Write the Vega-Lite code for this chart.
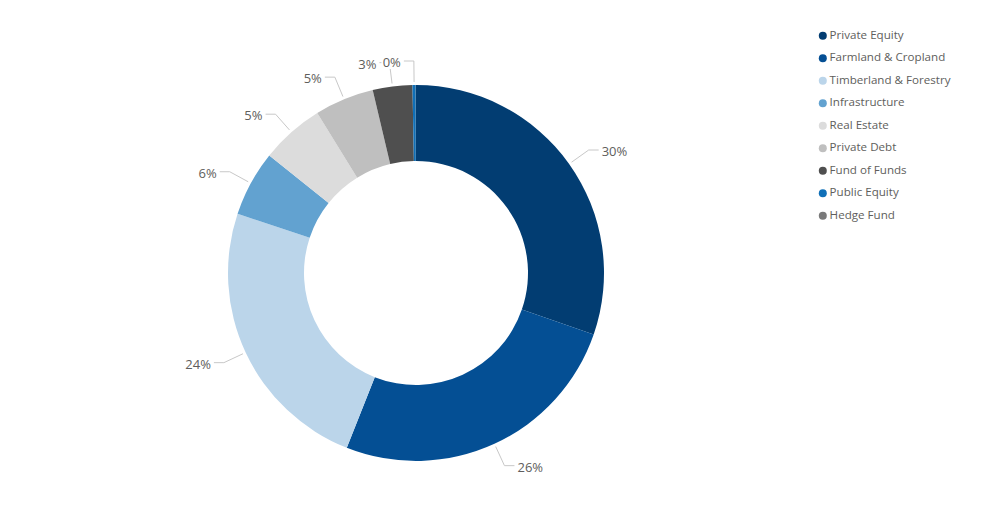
{
  "$schema": "https://vega.github.io/schema/vega-lite/v6.json",
  "autosize": {"type": "none"},
  "width": 832,
  "height": 480,
  "padding": {"left": 0, "top": 33, "right": 168, "bottom": 0},
  "background": "white",
  "config": {"view": {"stroke": null}},
  "data": {
    "values": [
      {"category": "Private Equity", "order": 1, "value": 30.3},
      {"category": "Farmland & Cropland", "order": 2, "value": 25.7},
      {"category": "Timberland & Forestry", "order": 3, "value": 24.1},
      {"category": "Infrastructure", "order": 4, "value": 5.65},
      {"category": "Real Estate", "order": 5, "value": 5.45},
      {"category": "Private Debt", "order": 6, "value": 5.1},
      {"category": "Fund of Funds", "order": 7, "value": 3.4},
      {"category": "Public Equity", "order": 8, "value": 0.28},
      {"category": "Hedge Fund", "order": 9, "value": 0.02}
    ]
  },
  "transform": [
    {"joinaggregate": [{"op": "sum", "field": "value", "as": "total"}]},
    {"window": [{"op": "sum", "field": "value", "as": "cum"}], "sort": [{"field": "order"}], "frame": [null, 0]},
    {"calculate": "(datum.cum - datum.value/2)/datum.total*2*PI", "as": "mid"},
    {"calculate": "datum.value/datum.total", "as": "pct"},
    {"calculate": "sin(datum.mid) >= 0 ? 1 : -1", "as": "side"},
    {"calculate": "191*sin(datum.mid)", "as": "x1"},
    {"calculate": "-191*cos(datum.mid)", "as": "y1"},
    {"calculate": "212*sin(datum.mid)", "as": "xe"},
    {"calculate": "-212*cos(datum.mid)", "as": "ye"},
    {"calculate": "datum.xe + 10*datum.side", "as": "x3"},
    {"calculate": "datum.x3 + 3*datum.side", "as": "xt"}
  ],
  "layer": [
    {
      "mark": {"type": "arc", "innerRadius": 112, "outerRadius": 188, "strokeWidth": 0},
      "encoding": {
        "theta": {"field": "value", "type": "quantitative", "stack": true},
        "order": {"field": "order", "type": "quantitative"},
        "color": {
          "field": "category",
          "type": "nominal",
          "scale": {
            "domain": ["Private Equity", "Farmland & Cropland", "Timberland & Forestry", "Infrastructure", "Real Estate", "Private Debt", "Fund of Funds", "Public Equity", "Hedge Fund"],
            "range": ["#023d72", "#044f94", "#bbd5ea", "#62a2d0", "#dcdcdc", "#bfbfbf", "#4f4f4f", "#1070b8", "#7a7a7a"]
          },
          "legend": {
            "orient": "none",
            "legendX": 817,
            "legendY": -3,
            "title": null,
            "symbolType": "circle",
            "symbolSize": 64,
            "symbolStrokeWidth": 0,
            "labelFont": "Open Sans",
            "labelFontSize": 11.6,
            "labelColor": "#605e5c",
            "labelOffset": 1,
            "rowPadding": 9.5,
            "padding": 0
          }
        }
      }
    },
    {
      "transform": [{"filter": "datum.value >= 0.1"}],
      "mark": {"type": "rule", "color": "#c8c8c8", "strokeWidth": 1},
      "encoding": {
        "x": {"field": "x1", "type": "quantitative", "scale": {"domain": [-416, 416], "nice": false, "zero": false}, "axis": null},
        "y": {"field": "y1", "type": "quantitative", "scale": {"domain": [-240, 240], "range": [0, 480], "nice": false, "zero": false}, "axis": null},
        "x2": {"field": "xe"},
        "y2": {"field": "ye"}
      }
    },
    {
      "transform": [{"filter": "datum.value >= 0.1"}],
      "mark": {"type": "rule", "color": "#c8c8c8", "strokeWidth": 1},
      "encoding": {
        "x": {"field": "xe", "type": "quantitative", "axis": null},
        "y": {"field": "ye", "type": "quantitative", "axis": null},
        "x2": {"field": "x3"}
      }
    },
    {
      "transform": [{"filter": "datum.value >= 0.1 && datum.side > 0"}],
      "mark": {"type": "text", "align": "left", "baseline": "middle", "dy": 2, "font": "Open Sans", "fontSize": 13, "color": "#605e5c"},
      "encoding": {
        "x": {"field": "xt", "type": "quantitative", "axis": null},
        "y": {"field": "ye", "type": "quantitative", "axis": null},
        "text": {"field": "pct", "type": "quantitative", "format": ".0%"}
      }
    },
    {
      "transform": [{"filter": "datum.value >= 0.1 && datum.side < 0"}],
      "mark": {"type": "text", "align": "right", "baseline": "middle", "dy": 2, "font": "Open Sans", "fontSize": 13, "stroke": "white", "strokeWidth": 4, "color": "white"},
      "encoding": {
        "x": {"field": "xt", "type": "quantitative", "axis": null},
        "y": {"field": "ye", "type": "quantitative", "axis": null},
        "text": {"field": "pct", "type": "quantitative", "format": ".0%"}
      }
    },
    {
      "transform": [{"filter": "datum.value >= 0.1 && datum.side < 0"}],
      "mark": {"type": "text", "align": "right", "baseline": "middle", "dy": 2, "font": "Open Sans", "fontSize": 13, "color": "#605e5c"},
      "encoding": {
        "x": {"field": "xt", "type": "quantitative", "axis": null},
        "y": {"field": "ye", "type": "quantitative", "axis": null},
        "text": {"field": "pct", "type": "quantitative", "format": ".0%"}
      }
    }
  ]
}
